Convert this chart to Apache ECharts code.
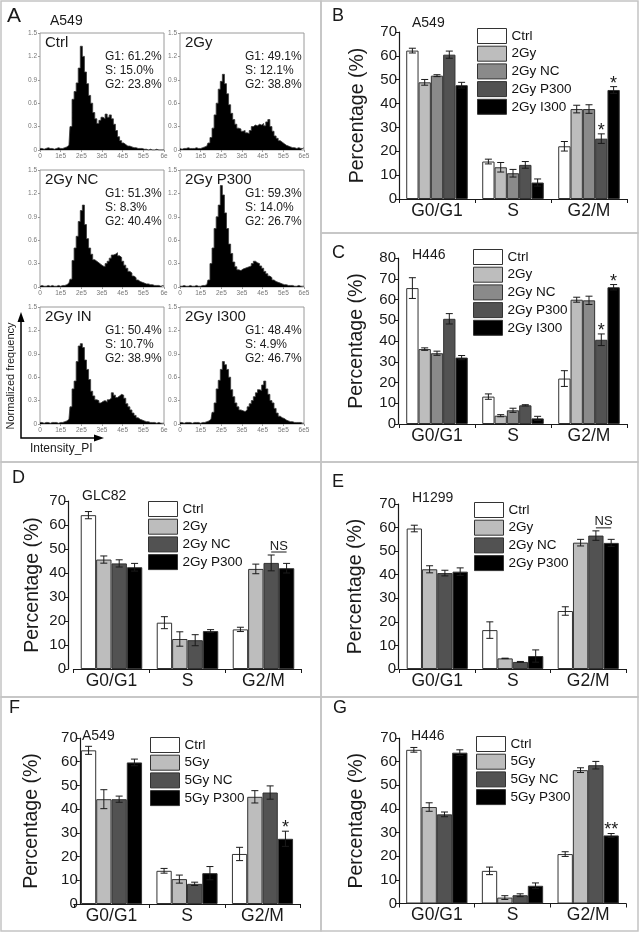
<!DOCTYPE html>
<html><head><meta charset="utf-8">
<script src="https://cdn.jsdelivr.net/npm/echarts/dist/echarts.min.js"></script>
<style>html,body{margin:0;padding:0;background:#fff}#c{width:639px;height:932px}</style>
</head><body><div id="c"></div>
<script>
// ================= DATA =================
// Panel A: flow cytometry histograms (x in units of 1e4, normalized frequency)
const histNames = ['Ctrl','2Gy','2Gy NC','2Gy P300','2Gy IN','2Gy I300'];
const histG1 = ['61.2%','49.1%','51.3%','59.3%','50.4%','48.4%'];
const histS  = ['15.0%','12.1%','8.3%','14.0%','10.7%','4.9%'];
const histG2 = ['23.8%','38.8%','40.4%','26.7%','38.9%','46.7%'];
const histXLabels = ['0','1e5','2e5','3e5','4e5','5e5','6e5'];
const histXLabelsClipped = ['0','1e5','2e5','3e5','4e5','5e5','6e'];
const histCtrl = [0.02,0.02,0.01,0.02,0.03,0.02,0.02,0.01,0.02,0.03,0.02,0.02,0.03,0.04,
  0.06,0.3,0.65,0.75,0.86,1.05,1.33,1.2,1.0,0.85,
  0.7,0.6,0.48,0.4,0.34,0.38,0.42,0.4,0.46,0.42,
  0.45,0.4,0.33,0.25,0.17,0.12,0.09,0.07,0.05,0.05,
  0.04,0.03,0.03,0.02,0.02,0.02,
  0.01,0.01,0,0.01,0,0,0.01,0,0,0,0];
const hist2Gy = [0.02,0.01,0.02,0.02,0.03,0.02,0.02,0.02,0.03,0.02,0.02,0.03,
  0.04,0.05,0.09,0.16,0.28,0.45,0.6,0.78,0.88,0.97,
  0.85,0.72,0.58,0.47,0.39,0.33,0.28,0.27,0.24,0.25,
  0.22,0.21,0.25,0.3,0.32,0.31,0.33,0.32,0.34,0.31,
  0.36,0.39,0.3,0.24,0.18,0.15,0.12,0.1,0.08,0.06,
  0.05,0.04,0.03,0.03,0.02,0.03,0.02,0.02,0.03];
const histNC = [0.01,0.02,0.01,0.01,0.02,0.01,0.02,0.01,0.01,0.02,0.01,0.02,0.02,0.03,
  0.05,0.1,0.34,0.5,0.65,0.84,0.98,1.05,0.8,0.62,
  0.5,0.42,0.35,0.33,0.31,0.29,0.27,0.26,0.3,0.33,
  0.37,0.41,0.42,0.44,0.4,0.38,0.33,0.28,0.24,0.2,
  0.18,0.14,0.12,0.09,0.07,0.06,0.05,0.04,0.04,0.03,
  0.03,0.02,0.02,0.02,0.01,0.02,0.01];
const histP300 = [0.01,0.01,0.02,0.01,0.01,0.02,0.01,0.01,0.02,0.01,0.01,0.02,0.02,
  0.03,0.09,0.3,0.5,0.75,0.9,1.05,1.3,1.18,0.95,
  0.75,0.55,0.43,0.32,0.26,0.22,0.21,0.23,0.24,0.25,
  0.26,0.27,0.3,0.33,0.31,0.3,0.27,0.24,0.2,0.17,
  0.14,0.12,0.09,0.07,0.06,0.05,0.04,0.03,0.03,0.02,
  0.02,0.02,0.01,0.01,0.02,0.01,0.01,0.01];
const histIN = [0.02,0.02,0.01,0.02,0.02,0.01,0.02,0.02,0.02,0.01,0.02,0.02,0.03,0.04,
  0.06,0.22,0.45,0.55,0.8,1.0,1.03,0.98,0.82,0.7,
  0.57,0.42,0.36,0.31,0.3,0.27,0.29,0.3,0.28,0.31,
  0.33,0.4,0.37,0.34,0.36,0.38,0.37,0.33,0.26,0.22,
  0.18,0.14,0.11,0.08,0.06,0.05,0.04,0.03,0.03,0.02,
  0.02,0.02,0.01,0.02,0.01,0.01,0.01];
const histI300 = [0.02,0.02,0.01,0.02,0.02,0.02,0.01,0.02,0.02,0.02,0.01,0.02,0.02,0.03,0.04,
  0.06,0.15,0.27,0.45,0.56,0.7,0.8,0.76,0.7,0.6,
  0.44,0.35,0.27,0.22,0.18,0.17,0.16,0.18,0.22,0.26,
  0.3,0.35,0.4,0.44,0.43,0.5,0.55,0.45,0.38,0.3,
  0.27,0.2,0.14,0.1,0.08,0.07,0.05,0.04,0.03,0.03,
  0.02,0.02,0.02,0.02,0.01,0.01];
const histData = [histCtrl, hist2Gy, histNC, histP300, histIN, histI300];

// Bar panels
const phases = ['G0/G1','S','G2/M'];

const bNames = ['Ctrl','2Gy','2Gy NC','2Gy P300','2Gy I300'];
const bValues = [[62.2,15.7,22.1],[48.9,13.3,37.7],[51.7,10.8,37.7],[60.5,14.3,25.3],[47.7,6.9,45.7]];
const bErrors = [[1.0,1.0,2.0],[1.2,2.0,1.6],[0.4,1.6,1.8],[1.5,1.4,2.0],[1.2,1.5,1.4]];
const bMarks = [{series:3,phase:2,text:'*'},{series:4,phase:2,text:'*'}];

const cNames = ['Ctrl','2Gy','2Gy NC','2Gy P300','2Gy I300'];
const cValues = [[65.5,13.2,21.9],[36.1,4.0,59.9],[34.1,6.6,59.6],[50.7,9.0,40.6],[32.0,2.7,65.9]];
const cErrors = [[5.0,1.3,3.8],[0.6,0.5,1.2],[1.0,1.0,2.0],[2.5,0.3,2.8],[1.0,1.0,1.3]];
const cMarks = [{series:3,phase:2,text:'*'},{series:4,phase:2,text:'*'}];

const dNames = ['Ctrl','2Gy','2Gy NC','2Gy P300'];
const dValues = [[64.1,19.3,16.5],[45.6,12.5,41.7],[44.0,12.0,44.2],[42.4,15.8,42.0]];
const dErrors = [[1.5,2.5,0.9],[1.5,3.0,2.0],[1.5,2.3,3.3],[1.6,0.6,2.0]];
const dMarks = [{series:2,phase:2,text:'NS',to:3}];

const eNames = ['Ctrl','2Gy','2Gy NC','2Gy P300'];
const eValues = [[59.6,16.5,24.6],[42.3,4.5,53.6],[40.7,3.0,56.6],[41.3,5.5,53.5]];
const eErrors = [[1.4,3.5,1.8],[1.5,0.1,1.4],[1.2,0.2,2.0],[1.6,2.6,1.5]];
const eMarks = [{series:2,phase:2,text:'NS',to:3}];

const fNames = ['Ctrl','5Gy','5Gy NC','5Gy P300'];
const fValues = [[64.8,14.0,21.1],[44.2,10.5,45.2],[44.2,8.5,47.0],[59.7,13.0,27.5]];
const fErrors = [[1.7,1.0,2.8],[4.0,1.7,2.6],[1.3,0.7,2.8],[1.4,2.8,3.2]];
const fMarks = [{series:3,phase:2,text:'*'}];

const gNames = ['Ctrl','5Gy','5Gy NC','5Gy P300'];
const gValues = [[65.0,13.8,20.9],[40.8,2.5,56.4],[37.7,3.5,58.5],[63.8,7.5,28.8]];
const gErrors = [[1.0,1.6,1.0],[1.8,0.8,1.0],[1.0,0.6,1.6],[1.2,1.2,0.8]];
const gMarks = [{series:3,phase:2,text:'**'}];

// ================= STYLE / LAYOUT =================
const FONT = '"Liberation Sans", Arial, Helvetica, sans-serif';
const colors5 = ['#ffffff','#bdbdbd','#8a8a8a','#525252','#000000'];
const colors4 = ['#ffffff','#bdbdbd','#525252','#000000'];
const GAP = 0.19;
const INK = '#1a1a1a';

const histCols = [40,180], histRows = [33,170,307], histW = 124, histH = 117;

const barPanels = [
  {names:bNames, values:bValues, errors:bErrors, marks:bMarks, colors:colors5, max:70,
   grid:{left:399,top:32,width:228,height:167}, yOffset:0, nameGap:31,
   legend:{left:477,top:28}, letter:'B', letterPos:[332,16], cell:'A549', cellPos:[412,23]},
  {names:cNames, values:cValues, errors:cErrors, marks:cMarks, colors:colors5, max:80,
   grid:{left:399,top:258,width:228,height:166}, yOffset:1, nameGap:31,
   legend:{left:473,top:249}, letter:'C', letterPos:[332,253], cell:'H446', cellPos:[412,255]},
  {names:dNames, values:dValues, errors:dErrors, marks:dMarks, colors:colors4, max:70,
   grid:{left:73.5,top:501,width:228,height:168}, yOffset:5.5, nameGap:25,
   legend:{left:148,top:501}, letter:'D', letterPos:[12,478], cell:'GLC82', cellPos:[82,496]},
  {names:eNames, values:eValues, errors:eErrors, marks:eMarks, colors:colors4, max:70,
   grid:{left:399.5,top:504,width:226.5,height:165}, yOffset:1.5, nameGap:32,
   legend:{left:474,top:502}, letter:'E', letterPos:[332,482], cell:'H1299', cellPos:[412,498]},
  {names:fNames, values:fValues, errors:fErrors, marks:fMarks, colors:colors4, max:70,
   grid:{left:73.75,top:738,width:226.5,height:166}, yOffset:-6, nameGap:38,
   legend:{left:150,top:737}, letter:'F', letterPos:[9,708], cell:'A549', cellPos:[82,736]},
  {names:gNames, values:gValues, errors:gErrors, marks:gMarks, colors:colors4, max:70,
   grid:{left:399,top:738,width:227,height:165.5}, yOffset:0, nameGap:32,
   legend:{left:476,top:736}, letter:'G', letterPos:[333,708], cell:'H446', cellPos:[411,736]}
];

// ================= BUILD =================
const grids = [], xAxes = [], yAxes = [], series = [], legends = [], graphics = [];

function txt(x, y, text, size, opts) {
  opts = opts || {};
  return {type:'text', x:x, y:y, rotation:opts.rotation||0, z:50,
    style:{text:text, font:(opts.weight||'normal')+' '+size+'px '+FONT, fill:opts.fill||INK,
      textAlign:opts.align||'left', textVerticalAlign:opts.valign||'middle'}};
}

// Histograms
histData.forEach((arr, k) => {
  const col = k % 2, row = Math.floor(k / 2);
  const left = histCols[col], top = histRows[row];
  const gi = grids.length;
  grids.push({left:left, top:top, width:histW, height:histH, show:true, borderColor:'#9a9a9a', borderWidth:1, backgroundColor:'#fff'});
  const labels = col === 0 ? histXLabelsClipped : histXLabels;
  xAxes.push({type:'value', gridIndex:gi, min:0, max:60, interval:10,
    axisLine:{show:false}, splitLine:{show:false},
    axisTick:{show:true, length:2, lineStyle:{color:'#999'}},
    axisLabel:{fontSize:6.5, color:'#777', margin:3, fontFamily:FONT,
      formatter:(v)=>labels[Math.round(v/10)]}});
  yAxes.push({type:'value', gridIndex:gi, min:0, max:1.5, interval:0.3,
    axisLine:{show:false}, splitLine:{show:false},
    axisTick:{show:true, length:2, lineStyle:{color:'#999'}},
    axisLabel:{fontSize:6.5, color:'#777', margin:3, fontFamily:FONT,
      formatter:(v)=> v === 0 ? '0' : v.toFixed(1)}});
  series.push({type:'line', xAxisIndex:gi, yAxisIndex:gi, step:'middle', symbol:'none',
    data:arr.map((v,i)=>[i,v]), lineStyle:{color:'#3a3a3a', width:0.8},
    areaStyle:{color:'#000', opacity:1}, silent:true, z:2});
  graphics.push(txt(left+5, top+10, histNames[k], 15));
  graphics.push(txt(left+65, top+24, 'G1: '+histG1[k], 12));
  graphics.push(txt(left+65, top+38, 'S: '+histS[k], 12));
  graphics.push(txt(left+65, top+52, 'G2: '+histG2[k], 12));
});

function barX(api, j, si, n) {
  const c = api.coord([j, 0])[0];
  const band = api.size([1, 0])[0];
  const gw = band * (1 - GAP);
  const bw = gw / n;
  return c - gw / 2 + bw * (si + 0.5);
}

// Bar panels
barPanels.forEach((p) => {
  const gi = grids.length;
  const n = p.names.length;
  grids.push(Object.assign({show:false}, p.grid));
  xAxes.push({type:'category', gridIndex:gi, data:phases,
    axisLine:{show:true, lineStyle:{color:INK, width:1.2}},
    axisTick:{show:true, length:4, lineStyle:{color:INK, width:1}},
    axisLabel:{fontSize:17.5, color:INK, margin:3, fontFamily:FONT}});
  yAxes.push({type:'value', gridIndex:gi, min:0, max:p.max, interval:10, offset:p.yOffset,
    axisLine:{show:true, lineStyle:{color:INK, width:1.2}},
    axisTick:{show:true, length:4, lineStyle:{color:INK, width:1}},
    axisLabel:{fontSize:15, color:INK, margin:2, fontFamily:FONT},
    splitLine:{show:false},
    name:'Percentage (%)', nameLocation:'middle', nameGap:p.nameGap,
    nameTextStyle:{fontSize:19.5, color:INK, fontFamily:FONT}});
  p.names.forEach((nm, si) => {
    series.push({type:'bar', name:nm, xAxisIndex:gi, yAxisIndex:gi, data:p.values[si],
      barGap:'0%', barCategoryGap:(GAP*100)+'%',
      itemStyle:{color:p.colors[si], borderColor:'#333', borderWidth:1}, z:2});
  });
  const ebData = [];
  p.values.forEach((arr, si) => arr.forEach((v, j) => ebData.push([j, v, p.errors[si][j], si])));
  series.push({type:'custom', xAxisIndex:gi, yAxisIndex:gi, data:ebData, z:5, silent:true,
    encode:{x:0, y:1}, clip:false,
    renderItem:(params, api) => {
      const j = api.value(0), v = api.value(1), e = api.value(2), si = api.value(3);
      const x = barX(api, j, si, n);
      const yT = api.coord([j, v + e])[1], yB = api.coord([j, v - e])[1];
      const cap = 3.5, st = {stroke:'#1a1a1a', lineWidth:1};
      return {type:'group', children:[
        {type:'line', shape:{x1:x, y1:yT, x2:x, y2:yB}, style:st},
        {type:'line', shape:{x1:x-cap, y1:yT, x2:x+cap, y2:yT}, style:st},
        {type:'line', shape:{x1:x-cap, y1:yB, x2:x+cap, y2:yB}, style:st}
      ]};
    }});
  const mkData = p.marks.map(m => {
    let top = 0;
    for (let s = m.series; s <= (m.to === undefined ? m.series : m.to); s++)
      top = Math.max(top, p.values[s][m.phase] + p.errors[s][m.phase]);
    return [m.phase, top];
  });
  const marks = p.marks;
  series.push({type:'custom', xAxisIndex:gi, yAxisIndex:gi, data:mkData, z:6, silent:true,
    encode:{x:0, y:1}, clip:false,
    renderItem:(params, api) => {
      const m = marks[params.dataIndex];
      const j = api.value(0), top = api.value(1);
      const yT = api.coord([j, top])[1];
      if (m.to === undefined) {
        const x = barX(api, j, m.series, n);
        return {type:'text', x:x, y:yT - 3,
          style:{text:m.text, font:'18px '+FONT, fill:INK, textAlign:'center', textVerticalAlign:'middle'}};
      }
      const x1 = barX(api, j, m.series, n), x2 = barX(api, j, m.to, n);
      const yl = yT - 3;
      return {type:'group', children:[
        {type:'line', shape:{x1:x1, y1:yl, x2:x2, y2:yl}, style:{stroke:INK, lineWidth:1}},
        {type:'text', x:(x1+x2)/2, y:yl - 6,
          style:{text:m.text, font:'13px '+FONT, fill:INK, textAlign:'center', textVerticalAlign:'middle'}}
      ]};
    }});
  legends.push({orient:'vertical', left:p.legend.left, top:p.legend.top, padding:0,
    itemWidth:29, itemHeight:15, itemGap:1.7, icon:'rect', selectedMode:false,
    textStyle:{fontSize:13.5, color:'#111', fontFamily:FONT},
    data:p.names.map((nm, si) => ({name:nm, itemStyle:{color:p.colors[si], borderColor:'#333', borderWidth:1}}))});
  graphics.push(txt(p.letterPos[0], p.letterPos[1], p.letter, 18));
  graphics.push(txt(p.cellPos[0], p.cellPos[1], p.cell, 14));
});

// Panel A decorations
graphics.push(txt(7, 16, 'A', 21));
graphics.push(txt(50, 21.5, 'A549', 14));
graphics.push({type:'polyline', z:50, shape:{points:[[21,320],[21,438],[97,438]]}, style:{stroke:'#000', lineWidth:1.5, fill:null}});
graphics.push({type:'polygon', z:50, shape:{points:[[21,312],[17.5,322],[24.5,322]]}, style:{fill:'#000'}});
graphics.push({type:'polygon', z:50, shape:{points:[[104,438],[94,434.5],[94,441.5]]}, style:{fill:'#000'}});
graphics.push(txt(11, 376, 'Normalized frequency', 11, {rotation:Math.PI/2, align:'center'}));
graphics.push(txt(30, 449, 'Intensity_PI', 12));

// Panel borders
const borderStyle = {stroke:'#c4c4c4', lineWidth:1.5, fill:null};
[[1,1,320,461],[321,1,317,232],[321,233,317,229],[1,462,320,235],[321,462,317,235],[1,697,320,234],[321,697,317,234]]
  .forEach(r => graphics.push({type:'rect', z:0, shape:{x:r[0], y:r[1], width:r[2], height:r[3]}, style:borderStyle}));

const chart = echarts.init(document.getElementById('c'), null, {renderer:'canvas'});
chart.setOption({
  animation:false,
  backgroundColor:'#fff',
  textStyle:{fontFamily:FONT},
  grid:grids, xAxis:xAxes, yAxis:yAxes, series:series, legend:legends, graphic:graphics
});
</script>
</body></html>
